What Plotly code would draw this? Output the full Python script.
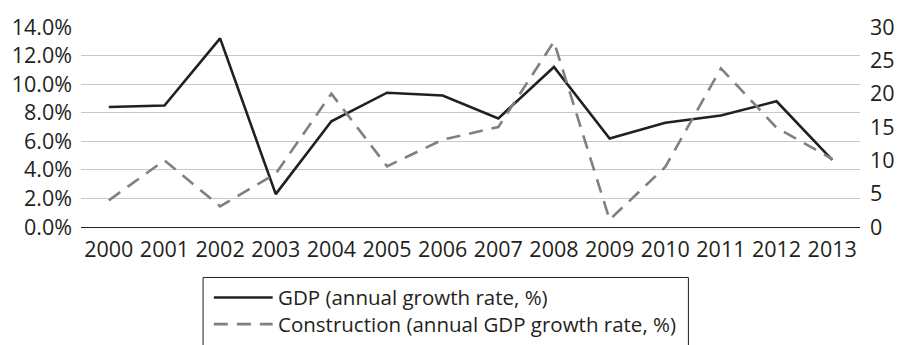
import plotly.graph_objects as go

# Annual growth series
years = [str(y) for y in range(2000, 2014)]
gdp_growth = [8.4, 8.5, 13.2, 2.3, 7.4, 9.4, 9.2, 7.6, 11.2, 6.2, 7.3, 7.8, 8.8, 4.7]
construction_growth = [4.0, 10.0, 3.1, 8.0, 20.0, 9.1, 13.1, 15.0, 27.8, 1.1, 9.0, 23.8, 14.9, 10.2]

gdp_name = "GDP (annual growth rate, %)"
construction_name = "Construction (annual GDP growth rate, %)"

W, H = 907, 345
ML, MR, MT, MB = 73.5, 39, 17, 118
TEXT = "#231f20"
FONT = "Open Sans, Noto Sans, sans-serif"
TICK = 21.5

gdp_style = dict(color="#231f20", width=2.6)
cons_style = dict(color="#808080", width=2.6, dash="14px,9px")

fig = go.Figure()
fig.add_trace(go.Scatter(x=years, y=gdp_growth, name=gdp_name, mode="lines",
                         line=gdp_style, yaxis="y"))
fig.add_trace(go.Scatter(x=years, y=construction_growth, name=construction_name,
                         mode="lines", line=cons_style, yaxis="y2"))

# Pixel helpers for the hand-built legend block
pw, ph = W - ML - MR, H - MT - MB


def px_x(v):
    return (v - ML) / pw


def px_y(v):
    return (H - MB - v) / ph


legend_rows = [(gdp_name, gdp_style, 301), (construction_name, cons_style, 329)]
shapes = [dict(type="rect", xref="paper", yref="paper",
               x0=px_x(198), x1=px_x(693), y0=px_y(370), y1=px_y(280),
               line=dict(color="#231f20", width=1), fillcolor="rgba(0,0,0,0)")]
annotations = []
for label, style, yy in legend_rows:
    shapes.append(dict(type="line", xref="paper", yref="paper",
                       x0=px_x(209), x1=px_x(269), y0=px_y(yy), y1=px_y(yy),
                       line=style))
    annotations.append(dict(text=label, xref="paper", yref="paper",
                            x=px_x(272), y=px_y(yy), xanchor="left", yanchor="middle",
                            showarrow=False, font=dict(size=20.5, color=TEXT, family=FONT)))

fig.update_layout(
    width=W, height=H,
    margin=dict(l=ML, r=MR, t=MT, b=MB, pad=0),
    paper_bgcolor="white", plot_bgcolor="white",
    font=dict(family=FONT, size=TICK, color=TEXT),
    showlegend=False,
    xaxis=dict(type="category", range=[-0.5, 13.5], showgrid=False, showline=True,
               linecolor="#231f20", linewidth=1.2, ticks="", ticklabelstandoff=3,
               tickfont=dict(size=TICK)),
    yaxis=dict(range=[0, 14], dtick=2, tickformat=".1f", ticksuffix="%",
               showgrid=True, gridcolor="#c8c8c8", gridwidth=1.2, zeroline=False,
               showline=False, ticks="", ticklabelstandoff=8, tickfont=dict(size=TICK)),
    yaxis2=dict(range=[0, 30], dtick=5, overlaying="y", side="right", showgrid=False,
                zeroline=False, showline=False, ticks="", ticklabelstandoff=9,
                tickfont=dict(size=TICK)),
    shapes=shapes,
    annotations=annotations,
)

fig.write_html("out.html")
